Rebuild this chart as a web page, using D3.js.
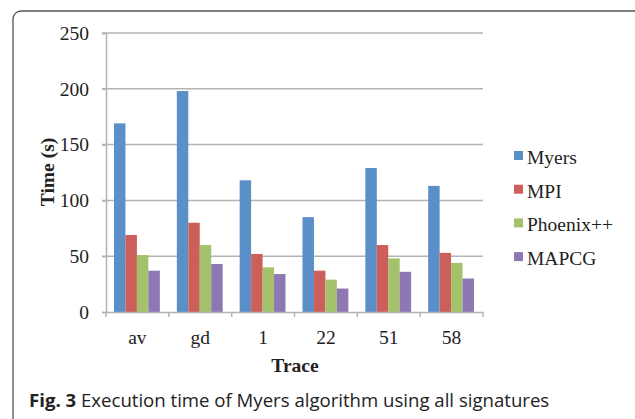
<!DOCTYPE html>
<html>
<head>
<meta charset="utf-8">
<title>Execution time of Myers algorithm</title>
<script src="https://cdn.jsdelivr.net/npm/d3@7"></script>
<style>
  body { margin: 0; background: #fff; }
  svg text { font-family: "Liberation Serif", "Times New Roman", serif; fill: #222; }
  svg text.caption { font-family: "Open Sans", "Noto Sans", sans-serif; fill: #222; }
</style>
</head>
<body>
<div id="chart"></div>
<script>
var traces = ["av", "gd", "1", "22", "51", "58"];
var series = ["Myers", "MPI", "Phoenix++", "MAPCG"];
var myers   = [169, 198, 118, 85, 129, 113];
var mpi     = [69, 80, 52, 37, 60, 53];
var phoenix = [51, 60, 40, 29, 48, 44];
var mapcg   = [37, 43, 34, 21, 36, 30];
var yTicks  = [0, 50, 100, 150, 200, 250];
var colors  = ["#5b8fc8", "#cd5f5a", "#a3c26b", "#8e78b3"];

var values = [myers, mpi, phoenix, mapcg];
var rows = traces.map(function(t, i){
  return {trace: t, vals: series.map(function(s, k){ return {name: s, v: values[k][i]}; })};
});

var serif = "'Liberation Serif', 'Times New Roman', serif";
var width = 635, height = 419;
var svg = d3.select("#chart").append("svg")
    .attr("width", width)
    .attr("height", height);

// frame round the figure (runs off right and bottom)
svg.append("rect")
   .attr("x", 13).attr("y", 11)
   .attr("width", 640).attr("height", 450)
   .attr("rx", 8)
   .attr("fill", "none")
   .attr("stroke", "#555")
   .attr("stroke-width", 1.3);

var pLeft = 106, pRight = 483, pTop = 33, pBottom = 312;

var x0 = d3.scaleBand().domain(traces).range([pLeft, pRight]);
var x1 = d3.scaleBand().domain(series).range([8, x0.bandwidth() - 9]);
var y = d3.scaleLinear().domain([0, 250]).range([pBottom, pTop]);

// gridlines
svg.append("g")
   .selectAll("line")
   .data(yTicks.slice(1))
   .enter().append("line")
   .attr("x1", pLeft - 4).attr("x2", pRight)
   .attr("y1", function(d){ return y(d); })
   .attr("y2", function(d){ return y(d); })
   .style("stroke", "#b4b4b4")
   .style("stroke-width", 1.5);

// y axis
var yAxis = svg.append("g")
   .attr("transform", "translate(" + pLeft + ",0)")
   .call(d3.axisLeft(y).tickValues(yTicks).tickSize(4).tickPadding(13));
yAxis.select(".domain").attr("stroke", "#b4b4b4").attr("stroke-width", 1.5);
yAxis.selectAll(".tick line").attr("stroke", "#b4b4b4").attr("stroke-width", 1.5);
yAxis.selectAll("text").style("font-size", "19.5px").attr("fill", "#222")
     .style("font-family", serif);

// bars
svg.append("g")
   .selectAll("g")
   .data(rows)
   .enter().append("g")
   .attr("transform", function(d){ return "translate(" + x0(d.trace) + ",0)"; })
   .selectAll("rect")
   .data(function(d){ return d.vals; })
   .enter().append("rect")
   .attr("x", function(d){ return x1(d.name); })
   .attr("width", x1.bandwidth())
   .attr("y", function(d){ return y(d.v); })
   .attr("height", function(d){ return y(0) - y(d.v); })
   .attr("fill", function(d, i){ return colors[i]; });

// x axis
var xAxis = svg.append("g")
   .attr("transform", "translate(0," + pBottom + ")")
   .call(d3.axisBottom(x0).tickSize(0).tickPadding(18));
xAxis.select(".domain").attr("stroke", "#b4b4b4").attr("stroke-width", 1.5);
xAxis.selectAll("text").style("font-size", "19.5px").attr("fill", "#222")
     .style("font-family", serif);
// boundary ticks between categories
xAxis.selectAll(".bound")
   .data(traces.concat(["end"]))
   .enter().append("line")
   .attr("x1", function(d, i){ return pLeft + i * x0.step(); })
   .attr("x2", function(d, i){ return pLeft + i * x0.step(); })
   .attr("y1", 0).attr("y2", 5)
   .attr("stroke", "#b4b4b4").attr("stroke-width", 1.5);

// axis titles
svg.append("text")
   .attr("transform", "translate(54,172) rotate(-90)")
   .attr("text-anchor", "middle")
   .style("font-family", serif)
   .style("font-size", "19.5px")
   .style("font-weight", "bold")
   .text("Time (s)");

svg.append("text")
   .attr("x", 295).attr("y", 372)
   .attr("text-anchor", "middle")
   .style("font-family", serif)
   .style("font-size", "19.5px")
   .style("font-weight", "bold")
   .text("Trace");

// legend
var legend = svg.append("g")
   .selectAll("g")
   .data(series)
   .enter().append("g")
   .attr("transform", function(d, i){ return "translate(514," + (151 + i * 33.7) + ")"; });
legend.append("rect")
   .attr("width", 9).attr("height", 9)
   .attr("fill", function(d, i){ return colors[i]; });
legend.append("text")
   .attr("x", 13).attr("y", 13)
   .style("font-family", serif)
   .style("font-size", "19.5px")
   .text(function(d){ return d; });

// caption
var cap = svg.append("text")
   .attr("class", "caption")
   .attr("x", 29).attr("y", 406.5)
   .style("font-size", "18.6px");
cap.append("tspan").style("font-weight", "bold").text("Fig. 3");
cap.append("tspan").text(" Execution time of Myers algorithm using all signatures");
</script>
</body>
</html>
